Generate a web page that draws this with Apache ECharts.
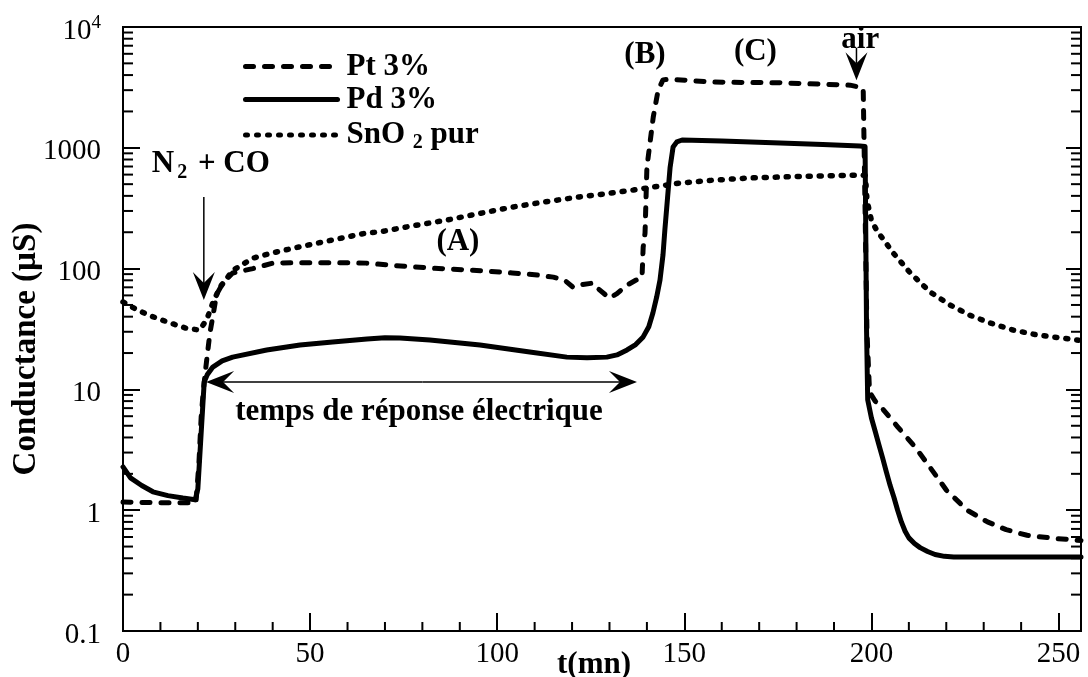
<!DOCTYPE html>
<html><head><meta charset="utf-8">
<script src="https://cdn.jsdelivr.net/npm/echarts@6/dist/echarts.min.js"></script>
<style>html,body{margin:0;padding:0;background:#fff}#c{width:1088px;height:677px}</style>
</head><body><div id="c"></div>
<script>
// ---- data (t in mn, conductance in µS) ----
const ptTime  = [0, 5, 10, 15, 19.5, 20.3, 20.9, 21.5, 22, 23.2, 24, 25, 26.7, 29.3, 34.7, 40, 47, 56, 65, 71, 82, 93.5, 104, 110, 115, 118, 120.3, 122, 125.6, 127, 130, 132, 134.7, 137, 138.7, 139, 139.5, 140, 141.7, 143, 144.3, 146, 157.7, 175.6, 194.3, 197.8, 198.3, 198.8, 199.5, 201, 203, 207, 211.7, 215.8, 220, 225.6, 231, 236, 241.6, 247.7, 253, 256];
const ptValue = [1.17, 1.16, 1.15, 1.15, 1.15, 2.5, 6, 10, 14, 29, 40, 61, 76, 92, 100, 111, 112, 112, 111, 107, 101, 97, 92, 89, 85, 80, 70, 73, 76, 68, 57, 62, 73, 80, 85, 150, 197, 690, 1800, 3000, 3650, 3700, 3500, 3450, 3300, 3120, 3100, 30, 9.5, 8.0, 6.9, 4.9, 3.33, 2.23, 1.47, 1.0, 0.80, 0.69, 0.62, 0.59, 0.57, 0.56];

const pdTime  = [0, 2, 5, 8, 12, 16, 19.3, 20, 21, 21.7, 22.5, 24, 26.5, 29.3, 38.4, 47.3, 56, 65.2, 70, 74, 82, 95.4, 108.7, 118.6, 124, 129.3, 132, 134.7, 137, 139, 140.5, 141.6, 142.6, 143.5, 144.3, 144.8, 145.5, 146.2, 147, 148, 149.4, 160, 175.6, 187, 196.9, 198.3, 198.7, 199, 200, 201, 202, 203, 204, 205, 206, 207, 208, 209, 210, 211.5, 213, 215, 217, 219.5, 222, 235, 250, 256];
const pdValue = [2.28, 1.85, 1.6, 1.42, 1.32, 1.26, 1.22, 1.5, 5, 11.5, 13.2, 15.3, 17.2, 18.5, 21.2, 23.3, 24.7, 26.1, 26.8, 26.6, 25.6, 23.3, 20.4, 18.5, 18.3, 18.5, 19.3, 21.2, 23.5, 27.2, 33, 42.9, 58, 80.5, 130, 209, 380, 690, 1016, 1120, 1160, 1140, 1096, 1065, 1035, 1025, 30, 8.2, 5.8, 4.5, 3.47, 2.7, 2.07, 1.6, 1.28, 1.0, 0.80, 0.67, 0.59, 0.53, 0.49, 0.455, 0.43, 0.415, 0.41, 0.41, 0.41, 0.41];

const snTime  = [0, 3, 7, 12, 17, 20.5, 22.4, 24, 25.9, 29.4, 34.7, 40, 47, 55, 65, 68.6, 77, 86.5, 95, 104.3, 113, 122, 130, 136.4, 142, 148.8, 158, 167.6, 175.6, 186, 197, 198.4, 198.8, 200, 201.5, 203.7, 205.8, 210.4, 215.7, 221, 226.4, 231.7, 237.9, 244.3, 250.5, 256];
const snValue = [53, 47, 41, 36, 32, 31, 38, 52, 70, 97, 122, 135, 151, 170, 197, 201, 225, 252, 285, 324, 358, 392, 420, 447, 475, 511, 540, 563, 573, 585, 595, 590, 370, 250, 205, 166, 135, 92, 64, 50, 41, 35.5, 31, 28.2, 26.7, 25.4];

const seriesNames = ['Pt 3%', 'Pd 3%', 'SnO2 pur'];
const xTickLabels = ['0', '50', '100', '150', '200', '250'];
const yTickLabels = ['0.1', '1', '10', '100', '1000', '10{sup|4}'];
const xMinorTicks = [10, 20, 30, 40, 60, 70, 80, 90, 110, 120, 130, 140, 160, 170, 180, 190, 210, 220, 230, 240];
const yMinorTicks = [0.2, 0.3, 0.4, 0.5, 0.6, 0.7, 0.8, 0.9, 2, 3, 4, 5, 6, 7, 8, 9, 20, 30, 40, 50, 60, 70, 80, 90,
                     200, 300, 400, 500, 600, 700, 800, 900, 2000, 3000, 4000, 5000, 6000, 7000, 8000, 9000];

// annotations, anchored in data units (t, µS)
const notes = [
  { text: '(A)', t: 89.5, v: 166 },
  { text: '(B)', t: 139.5, v: 5860 },
  { text: '(C)', t: 169, v: 6210 },
  { text: 'air', t: 197, v: 7800 },
  { text: 'temps de réponse électrique', t: 79.1, v: 6.5 },
  { text: 'N{sub|2} + CO', t: 7.7, v: 735, align: 'left' }
];
const arrows = [
  { from: [21.6, 392], to: [21.6, 55] },
  { from: [196.0, 6700], to: [196.0, 3630] },
  { from: [80, 11.5], to: [22.2, 11.5] },
  { from: [80, 11.5], to: [137.35, 11.5] }
];

const X_MIN = 0, X_MAX = 256, Y_MIN = 0.1, Y_MAX = 10000;
const SERIF = 'Liberation Serif';
function pairs(t, v) { return t.map((x, i) => [x, v[i]]); }

const chart = echarts.init(document.getElementById('c'), null, { renderer: 'canvas' });

const axisColor = '#000';
const option = {
  animation: false,
  backgroundColor: '#fff',
  grid: { left: 123, right: 7, top: 27, bottom: 46, show: true, borderColor: '#000', borderWidth: 2, containLabel: false, outerBoundsMode: 'none' },
  legend: {
    show: true, orient: 'vertical', left: 243, top: 51, padding: 0, itemGap: 2,
    itemWidth: 92, itemHeight: 14,
    data: seriesNames,
    formatter: n => n === 'SnO2 pur' ? 'SnO {sub|2} pur' : n,
    itemStyle: { opacity: 0, borderWidth: 0 },
    lineStyle: { width: 5, cap: 'round', opacity: 1 },
    textStyle: {
      fontFamily: SERIF, fontWeight: 'bold', fontSize: 31, color: '#000', lineHeight: 29, padding: [0, 0, 0, 4],
      rich: { sub: { fontFamily: SERIF, fontWeight: 'bold', fontSize: 20, padding: [16, 0, 0, 0], lineHeight: 29 } }
    }
  },
  xAxis: {
    type: 'value', min: X_MIN, max: X_MAX, interval: 50,
    axisLine: { show: true, lineStyle: { color: axisColor, width: 2 } },
    axisTick: { show: true, inside: true, length: 18, lineStyle: { color: axisColor, width: 2 } },
    splitLine: { show: false },
    axisLabel: {
      fontFamily: SERIF, fontSize: 29, color: '#000', margin: 9, showMaxLabel: false,
      formatter: (v) => { const i = Math.round(v / 50); return (Math.abs(v - i * 50) < 1e-6 && i < xTickLabels.length) ? xTickLabels[i] : ''; }
    },
    name: 't(mn)', nameLocation: 'middle', nameGap: 18, nameMoveOverlap: false,
    nameTextStyle: { fontFamily: SERIF, fontWeight: 'bold', fontSize: 31, color: '#000', padding: [0, 16, 0, 0] }
  },
  yAxis: [{
    type: 'log', logBase: 10, min: Y_MIN, max: Y_MAX,
    axisLine: { show: true, lineStyle: { color: axisColor, width: 2 } },
    axisTick: { show: true, inside: true, length: 17, lineStyle: { color: axisColor, width: 2 } },
    splitLine: { show: false },
    axisLabel: {
      fontFamily: SERIF, fontSize: 29, color: '#000', margin: 22, padding: [8, 0, 0, 0],
      formatter: (v, i) => yTickLabels[i] !== undefined ? yTickLabels[i] : '',
      rich: { sup: { fontFamily: SERIF, fontSize: 19, color: '#000', verticalAlign: 'top', padding: [0, 0, 16, 0] } }
    },
    name: 'Conductance (µS)', nameLocation: 'middle', nameGap: 80, nameRotate: 90, nameMoveOverlap: false,
    nameTextStyle: { fontFamily: SERIF, fontWeight: 'bold', fontSize: 33, color: '#000', padding: [0, 40, 0, 0] }
  }, {
    type: 'log', logBase: 10, min: Y_MIN, max: Y_MAX, position: 'right',
    axisLine: { show: true, lineStyle: { color: axisColor, width: 2 } },
    axisTick: { show: true, inside: true, length: 15, lineStyle: { color: axisColor, width: 2 } },
    axisLabel: { show: false }, splitLine: { show: false }
  }],
  series: [
    { name: 'Pt 3%', type: 'line', data: pairs(ptTime, ptValue), symbol: 'none', showSymbol: false, z: 3,
      lineStyle: { color: '#000', width: 5, type: [8, 11], cap: 'round', join: 'round' }, itemStyle: { color: '#000' } },
    { name: 'Pd 3%', type: 'line', data: pairs(pdTime, pdValue), symbol: 'none', showSymbol: false, z: 4,
      lineStyle: { color: '#000', width: 5, type: 'solid', cap: 'round', join: 'round' }, itemStyle: { color: '#000' } },
    { name: 'SnO2 pur', type: 'line', data: pairs(snTime, snValue), symbol: 'none', showSymbol: false, z: 2,
      lineStyle: { color: '#000', width: 5.5, type: [2, 9], cap: 'round', join: 'round' }, itemStyle: { color: '#000' } },
    { name: 'minorTicksY', type: 'custom', silent: true, z: 5, clip: false,
      data: yMinorTicks.map(v => [X_MIN, v]),
      renderItem: (params, api) => {
        const cs = params.coordSys;
        const y = api.coord([X_MIN, api.value(1)])[1];
        return { type: 'group', children: [
          { type: 'line', shape: { x1: cs.x, y1: y, x2: cs.x + 10, y2: y }, style: { stroke: '#000', lineWidth: 2 } },
          { type: 'line', shape: { x1: cs.x + cs.width, y1: y, x2: cs.x + cs.width - 10, y2: y }, style: { stroke: '#000', lineWidth: 2 } }
        ] };
      } },
    { name: 'minorTicksX', type: 'custom', silent: true, z: 5, clip: false,
      data: xMinorTicks.map(t => [t, Y_MIN]),
      renderItem: (params, api) => {
        const cs = params.coordSys;
        const x = api.coord([api.value(0), Y_MIN])[0];
        const yb = cs.y + cs.height;
        return { type: 'line', shape: { x1: x, y1: yb, x2: x, y2: yb - 9 }, style: { stroke: '#000', lineWidth: 2 } };
      } }
  ]
};
chart.setOption(option);

// annotations positioned through the chart's own scales
const P = (t, v) => chart.convertToPixel({ xAxisIndex: 0, yAxisIndex: 0 }, [t, v]);
const graphics = [];
notes.forEach(n => {
  const p = P(n.t, n.v);
  graphics.push({ type: 'text', x: p[0], y: p[1], z: 10, style: {
    text: n.text, fontFamily: SERIF, fontWeight: 'bold', fontSize: 31, fill: '#000',
    align: n.align || 'center', verticalAlign: 'middle',
    rich: { sub: { fontFamily: SERIF, fontWeight: 'bold', fontSize: 20, fill: '#000', padding: [18, 3, 0, 3] } }
  } });
});
arrows.forEach(a => {
  const s = P(a.from[0], a.from[1]);
  const e = P(a.to[0], a.to[1]);
  const dx = e[0] - s[0], dy = e[1] - s[1];
  const len = Math.hypot(dx, dy); const ux = dx / len, uy = dy / len;
  const px = -uy, py = ux;
  const L = 28, W = 11, N = 17;
  const back = [e[0] - ux * L, e[1] - uy * L];
  const notch = [e[0] - ux * N, e[1] - uy * N];
  graphics.push({ type: 'line', z: 10, shape: { x1: s[0], y1: s[1], x2: notch[0], y2: notch[1] }, style: { stroke: '#000', lineWidth: 1.5 } });
  graphics.push({ type: 'polygon', z: 10, shape: { points: [e, [back[0] + px * W, back[1] + py * W], notch, [back[0] - px * W, back[1] - py * W]] }, style: { fill: '#000' } });
});
chart.setOption({ graphic: graphics });
</script>
</body></html>
